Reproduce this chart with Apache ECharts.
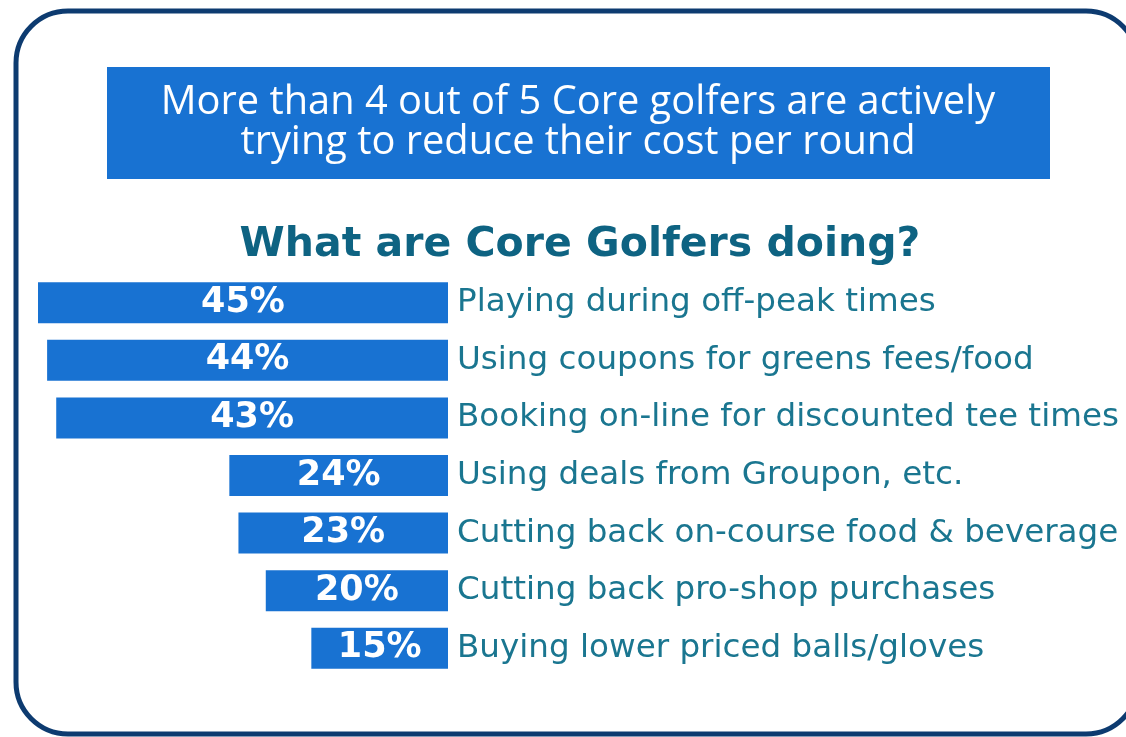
<!DOCTYPE html>
<html>
<head>
<meta charset="utf-8">
<script src="https://cdn.jsdelivr.net/npm/echarts@6/dist/echarts.min.js"></script>
<style>html,body{margin:0;padding:0;background:#fff}#c{width:1126px;height:737px}</style>
</head>
<body>
<div id="c"></div>
<script>
const headline = ['More than 4 out of 5 Core golfers are actively', 'trying to reduce their cost per round'];
const subtitle = 'What are Core Golfers doing?';
const categories = [
  'Playing during off-peak times',
  'Using coupons for greens fees/food',
  'Booking on-line for discounted tee times',
  'Using deals from Groupon, etc.',
  'Cutting back on-course food & beverage',
  'Cutting back pro-shop purchases',
  'Buying lower priced balls/gloves'
];
const values = [45, 44, 43, 24, 23, 20, 15];

const chart = echarts.init(document.getElementById('c'));
chart.setOption({
  backgroundColor: '#ffffff',
  animation: false,
  graphic: [
    { type: 'rect', shape: { x: 16, y: 11, width: 1122, height: 723, r: 52 },
      style: { fill: 'none', stroke: '#0d3b70', lineWidth: 5 } },
    { type: 'rect', shape: { x: 107, y: 67, width: 943, height: 112 },
      style: { fill: '#1872d2' } },
    { type: 'text', style: { text: headline.join('\n'), x: 578, y: 123,
      fill: '#ffffff', font: '39.8px "Open Sans", Lato, sans-serif', align: 'center', verticalAlign: 'middle', lineHeight: 40 } },
    { type: 'text', style: { text: subtitle, x: 580, y: 245, fill: '#0e6382',
      font: 'bold 41px "DejaVu Sans", Verdana, sans-serif', align: 'center', verticalAlign: 'middle' } }
  ],
  grid: { left: 38, right: 678, top: 274, bottom: 60, containLabel: false },
  xAxis: {
    type: 'value', min: 0, max: 45, inverse: true, show: false
  },
  yAxis: {
    type: 'category', data: categories, inverse: true, position: 'right',
    axisLine: { show: false }, axisTick: { show: false },
    axisLabel: { margin: 9, color: '#1a7690', fontSize: 32.6, fontFamily: '"DejaVu Sans", Verdana, sans-serif', align: 'left' }
  },
  series: [{
    type: 'bar', data: values, barWidth: 41,
    itemStyle: { color: '#1872d2' },
    label: { show: true, position: 'inside', formatter: '{c}%', color: '#ffffff',
      fontSize: 35, fontWeight: 'bold', fontFamily: '"DejaVu Sans", Verdana, sans-serif' }
  }]
});
</script>
</body>
</html>
